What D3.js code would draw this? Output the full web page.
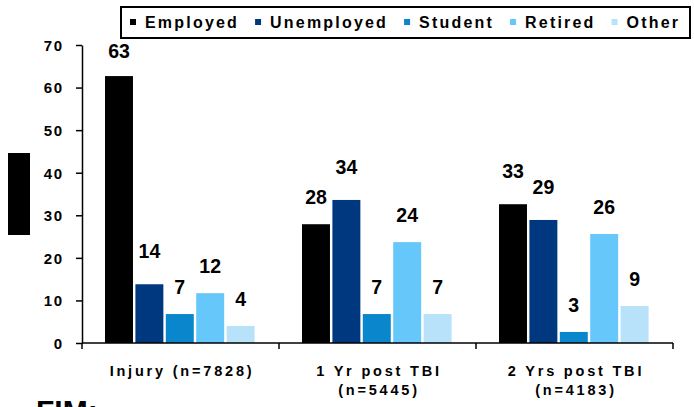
<!DOCTYPE html>
<html>
<head>
<meta charset="utf-8">
<script src="https://cdn.jsdelivr.net/npm/d3@7"></script>
<style>
	html, body { margin: 0; padding: 0; background: #fff; overflow: hidden; }
	svg { display: block; font-family: "Liberation Sans", Arial, sans-serif; font-weight: bold; }
</style>
</head>
<body>
<svg id="chart"></svg>
<script>
const groups = [["Injury (n=7828)"], ["1 Yr post TBI", "(n=5445)"], ["2 Yrs post TBI", "(n=4183)"]];
const series = ["Employed", "Unemployed", "Student", "Retired", "Other"];
const colors = ["#000000", "#00387f", "#0a87cc", "#66c8fa", "#b7e2fa"];

// percentages per group, in series order
const injury = [62.7, 13.8, 6.8, 11.7, 4.0];
const oneYear = [27.9, 33.6, 6.8, 23.7, 6.8];
const twoYears = [32.6, 28.9, 2.6, 25.6, 8.7];
const values = [injury, oneYear, twoYears];

const yTicks = [0, 10, 20, 30, 40, 50, 60, 70];

const W = 694, H = 407;

const svg = d3.select('#chart')
	.attr('width', W)
	.attr('height', H);

const y = d3.scaleLinear()
	.domain([0, 70])
	.range([343, 45]);

const x0 = d3.scaleBand()
	.domain(d3.range(groups.length))
	.range([82, 673])
	.padding(0);

const x1 = d3.scaleBand()
	.domain(series)
	.range([0, x0.bandwidth()])
	.paddingInner(0.08)
	.paddingOuter(0.78)
	.align(0.485);

// bars
const g = svg.append('g').attr('class', 'bars');
values.forEach((row, gi) => {
	g.selectAll('.bar-' + gi)
		.data(row.map((v, si) => ({v: v, s: series[si], c: colors[si]})))
		.enter().append('rect')
		.attr('x', d => x0(gi) + x1(d.s))
		.attr('y', d => y(d.v))
		.attr('width', x1.bandwidth())
		.attr('height', d => y(0) - y(d.v))
		.attr('fill', d => d.c);
});

// value labels (a few were lifted a bit in the original)
const lift = [[-2, 6, 0, 0, 0], [0, 6, 0, 0, 0], [6, 6, 0, 0, 0]];
values.forEach((row, gi) => {
	g.selectAll('.lab-' + gi)
		.data(row.map((v, si) => ({v: v, s: series[si], k: lift[gi][si]})))
		.enter().append('text')
		.attr('x', d => x0(gi) + x1(d.s) + x1.bandwidth() / 2)
		.attr('y', d => y(d.v) - 20 - d.k)
		.attr('text-anchor', 'middle')
		.attr('font-size', 19.5)
		.attr('fill', '#000')
		.text(d => Math.round(d.v));
});

// y axis
const yAxis = svg.append('g')
	.attr('transform', 'translate(82,0)')
	.call(d3.axisLeft(y).tickValues(yTicks).tickSize(6).tickSizeOuter(0).tickPadding(0));
yAxis.select('.domain').attr('stroke', '#000').attr('stroke-width', 1.5);
yAxis.selectAll('.tick line').attr('stroke', '#000').attr('stroke-width', 1.5);
yAxis.selectAll('.tick text')
	.attr('x', -18.5)
	.attr('dy', '0.36em')
	.attr('font-size', 15)
	.attr('font-family', '"Liberation Sans", Arial, sans-serif')
	.attr('font-weight', 'bold')
	.attr('letter-spacing', 1.5)
	.attr('fill', '#000');

// x axis: baseline with ticks at group boundaries
const xAxis = svg.append('g').attr('class', 'x axis');
xAxis.append('line')
	.attr('x1', x0.range()[0]).attr('x2', x0.range()[1])
	.attr('y1', y(0)).attr('y2', y(0))
	.attr('stroke', '#000').attr('stroke-width', 1.5);
xAxis.selectAll('.xt')
	.data(d3.range(groups.length + 1))
	.enter().append('line')
	.attr('x1', i => x0.range()[0] + i * x0.step())
	.attr('x2', i => x0.range()[0] + i * x0.step())
	.attr('y1', y(0)).attr('y2', y(0) + 6)
	.attr('stroke', '#000').attr('stroke-width', 1.5);

const xl = xAxis.selectAll('.xl')
	.data(groups)
	.enter().append('text')
	.attr('text-anchor', 'middle')
	.attr('font-size', 14.5)
	.attr('letter-spacing', 2.8)
	.attr('fill', '#000');
xl.selectAll('tspan')
	.data((d, i) => d.map((line, li) => ({line: line, li: li, gi: i})))
	.enter().append('tspan')
	.attr('x', d => x0(d.gi) + x0.bandwidth() / 2 + 1.5)
	.attr('y', d => 376 + d.li * 19)
	.text(d => d.line);

// legend
const leg = svg.append('g').attr('class', 'legend');
leg.append('rect')
	.attr('x', 121).attr('y', 7)
	.attr('width', 569).attr('height', 31)
	.attr('fill', '#fff').attr('stroke', '#000').attr('stroke-width', 2);
let lx = 130;
series.forEach((s, i) => {
	leg.append('rect')
		.attr('x', lx).attr('y', 19)
		.attr('width', 6).attr('height', 6)
		.attr('fill', colors[i]);
	const t = leg.append('text')
		.attr('x', lx + 15).attr('y', 28)
		.attr('font-size', 16)
		.attr('letter-spacing', 2.2)
		.attr('fill', '#000')
		.text(s);
	lx = lx + 15 + t.node().getComputedTextLength() + 16;
});

// redacted axis title block
svg.append('rect')
	.attr('x', 8).attr('y', 153)
	.attr('width', 22).attr('height', 82)
	.attr('fill', '#000');

// cut-off caption at the bottom
svg.append('text')
	.attr('x', 36).attr('y', 421)
	.attr('font-size', 30)
	.attr('fill', '#000')
	.text('FIM:');
</script>
</body>
</html>
